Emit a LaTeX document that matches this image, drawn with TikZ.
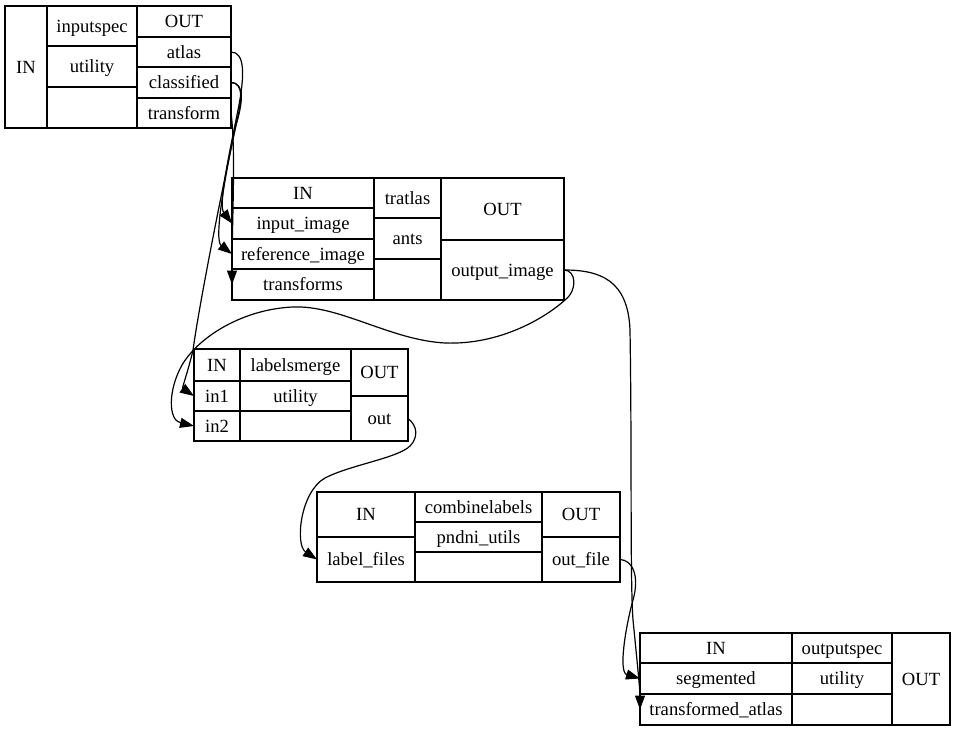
\documentclass[tikz,border=0pt]{standalone}
\usepackage{fontspec}
\setmainfont{Liberation Serif}
\usetikzlibrary{arrows.meta}
\tikzset{
  rec/.style={draw, line width=1.2pt, inner sep=0pt, outer sep=0pt,
    font=\fontsize{18.6pt}{22pt}\selectfont, text height=14pt, text depth=2pt, align=center},
  edge/.style={line width=1.2pt, -{Triangle[length=14pt,width=10pt]}}
}
\newcommand\rcell[6]{\node[rec, minimum width={#4-#2}, minimum height={#5-#3}] (#1) at ({(#2+#4)/2},{(#3+#5)/2}) {#6};}
\begin{document}
\begin{tikzpicture}[x=1pt,y=-1pt]
\useasboundingbox (0,0) rectangle (956,731);
% inputspec
\rcell{isIN}{5}{6}{47}{128}{IN}
\rcell{isName}{47}{6}{137}{46}{inputspec}
\rcell{isPkg}{47}{46}{137}{87}{utility}
\rcell{isEmpty}{47}{87}{137}{128}{}
\rcell{isOUT}{137}{6}{231}{37}{OUT}
\rcell{atlas}{137}{37}{231}{67}{atlas}
\rcell{classified}{137}{67}{231}{98}{classified}
\rcell{transform}{137}{98}{231}{128}{transform}
% tratlas
\rcell{trIN}{232}{178}{374}{208}{IN}
\rcell{inputimage}{232}{208}{374}{239}{input\_image}
\rcell{referenceimage}{232}{239}{374}{269}{reference\_image}
\rcell{transforms}{232}{269}{374}{300}{transforms}
\rcell{trName}{374}{178}{441}{218}{tratlas}
\rcell{trPkg}{374}{218}{441}{259}{ants}
\rcell{trEmpty}{374}{259}{441}{300}{}
\rcell{trOUT}{441}{178}{564}{240}{OUT}
\rcell{outputimage}{441}{240}{564}{300}{output\_image}
% labelsmerge
\rcell{lmIN}{194}{349}{240}{381}{IN}
\rcell{inone}{194}{381}{240}{411}{in1}
\rcell{intwo}{194}{411}{240}{441}{in2}
\rcell{lmName}{240}{349}{351}{381}{labelsmerge}
\rcell{lmPkg}{240}{381}{351}{411}{utility}
\rcell{lmEmpty}{240}{411}{351}{441}{}
\rcell{lmOUT}{351}{349}{408}{396}{OUT}
\rcell{out}{351}{396}{408}{441}{out}
% combinelabels
\rcell{clIN}{317}{492}{415}{537}{IN}
\rcell{labelfiles}{317}{537}{415}{582}{label\_files}
\rcell{clName}{415}{492}{542}{522}{combinelabels}
\rcell{clPkg}{415}{522}{542}{552}{pndni\_utils}
\rcell{clEmpty}{415}{552}{542}{582}{}
\rcell{clOUT}{542}{492}{620}{537}{OUT}
\rcell{outfile}{542}{537}{620}{582}{out\_file}
% outputspec
\rcell{osIN}{640}{633}{792}{663}{IN}
\rcell{segmented}{640}{663}{792}{694}{segmented}
\rcell{transformedatlas}{640}{694}{792}{725}{transformed\_atlas}
\rcell{osName}{792}{633}{892}{663}{outputspec}
\rcell{osPkg}{792}{663}{892}{694}{utility}
\rcell{osEmpty}{792}{694}{892}{725}{}
\rcell{osOUT}{892}{633}{950}{725}{OUT}
% edges
\draw[edge] (atlas.east) .. controls (245,52) and (245,75) .. (238,110)
  .. controls (230,150) and (218,205) .. (inputimage.west);
\draw[edge] (classified.east) .. controls (244,83) and (242,100) .. (236,125)
  .. controls (224,180) and (214,240) .. (referenceimage.west);
\draw[edge] (classified.east) .. controls (246,83) and (242,105) .. (236,125)
  .. controls (222,190) and (200,300) .. (193,350)
  .. controls (189,368) and (182,388) .. (inone.west);
\draw[edge] (transform.east) .. controls (236,150) and (232,220) .. (transforms.west);
\draw[edge] (outputimage.east) .. controls (576,270) and (578,290) .. (565,300)
  .. controls (545,318) and (500,345) .. (445,343)
  .. controls (390,340) and (340,305) .. (293,307)
  .. controls (245,309) and (200,335) .. (182,365)
  .. controls (168,390) and (168,420) .. (intwo.west);
\draw[edge] (outputimage.east) .. controls (600,270) and (628,280) .. (630,330)
  .. controls (632,450) and (630,580) .. (633,620)
  .. controls (637,660) and (640,690) .. (transformedatlas.west);
\draw[edge] (out.east) .. controls (418,426) and (418,438) .. (410,446)
  .. controls (398,458) and (350,465) .. (325,478)
  .. controls (300,492) and (295,545) .. (labelfiles.west);
\draw[edge] (outfile.east) .. controls (632,560) and (640,575) .. (633,600)
  .. controls (626,625) and (618,672) .. (segmented.west);
\end{tikzpicture}
\end{document}
